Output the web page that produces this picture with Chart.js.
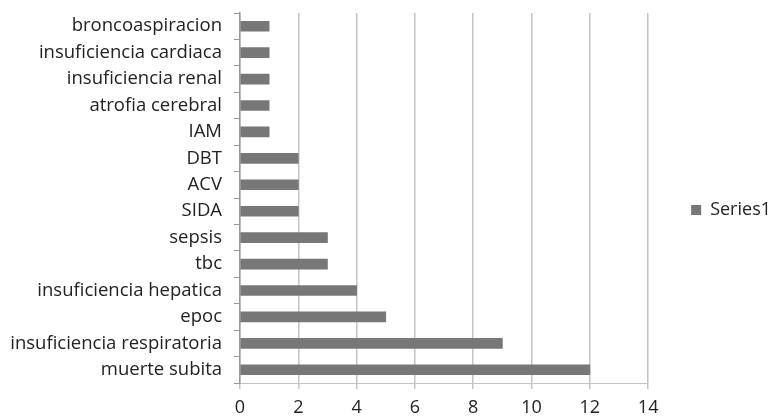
<!DOCTYPE html>
<html>
<head>
<meta charset="utf-8">
<script src="https://cdn.jsdelivr.net/npm/chart.js@4"></script>
<style>
  html, body { margin: 0; padding: 0; background: #fff; }
  #wrap { width: 772px; height: 420px; }
</style>
</head>
<body>
<div id="wrap"><canvas id="myChart" width="772" height="420"></canvas></div>
<script>
// datos
const categorias = ['broncoaspiracion', 'insuficiencia cardiaca', 'insuficiencia renal', 'atrofia cerebral', 'IAM', 'DBT', 'ACV', 'SIDA', 'sepsis', 'tbc', 'insuficiencia hepatica', 'epoc', 'insuficiencia respiratoria', 'muerte subita'];
const serie1 = [1, 1, 1, 1, 1, 2, 2, 2, 3, 3, 4, 5, 9, 12];
const ticksX = [0, 2, 4, 6, 8, 10, 12, 14];

const fuente = '"Open Sans", sans-serif';

const ctx = document.getElementById('myChart');
new Chart(ctx, {
    type: 'bar',
    data: {
        labels: categorias,
        datasets: [{
            label: 'Series1',
            data: serie1,
            backgroundColor: '#777777',
            borderWidth: 0,
            barThickness: 10
        }]
    },
    options: {
        indexAxis: 'y',
        responsive: false,
        animation: false,
        layout: { padding: { top: 0, right: -9, bottom: 0, left: 0 } },
        scales: {
            x: {
                min: 0,
                max: 14,
                afterBuildTicks: (scale) => { scale.ticks = ticksX.map(v => ({ value: v })); },
                afterFit: (scale) => { scale.height = 37; },
                grid: { color: '#c4c4c4', lineWidth: 1.5, tickLength: 6, drawTicks: true },
                border: { display: true, color: '#c4c4c4' },
                ticks: { color: '#222', font: { family: fuente, size: 18 }, padding: 8 }
            },
            y: {
                afterFit: (scale) => {
                    scale.width = 240;
                    scale.paddingTop = 13;
                    scale.paddingBottom = 0;
                },
                grid: { offset: true, drawOnChartArea: false, color: '#999', tickLength: 6 },
                border: { display: true, color: '#999', width: 1.5 },
                ticks: { color: '#222', font: { family: fuente, size: 18.5 }, padding: 12 }
            }
        },
        plugins: {
            legend: {
                position: 'right',
                labels: {
                    boxWidth: 10,
                    boxHeight: 10,
                    color: '#222',
                    font: { family: fuente, size: 18 },
                    padding: 43
                }
            },
            tooltip: { enabled: false }
        }
    }
});
</script>
</body>
</html>
